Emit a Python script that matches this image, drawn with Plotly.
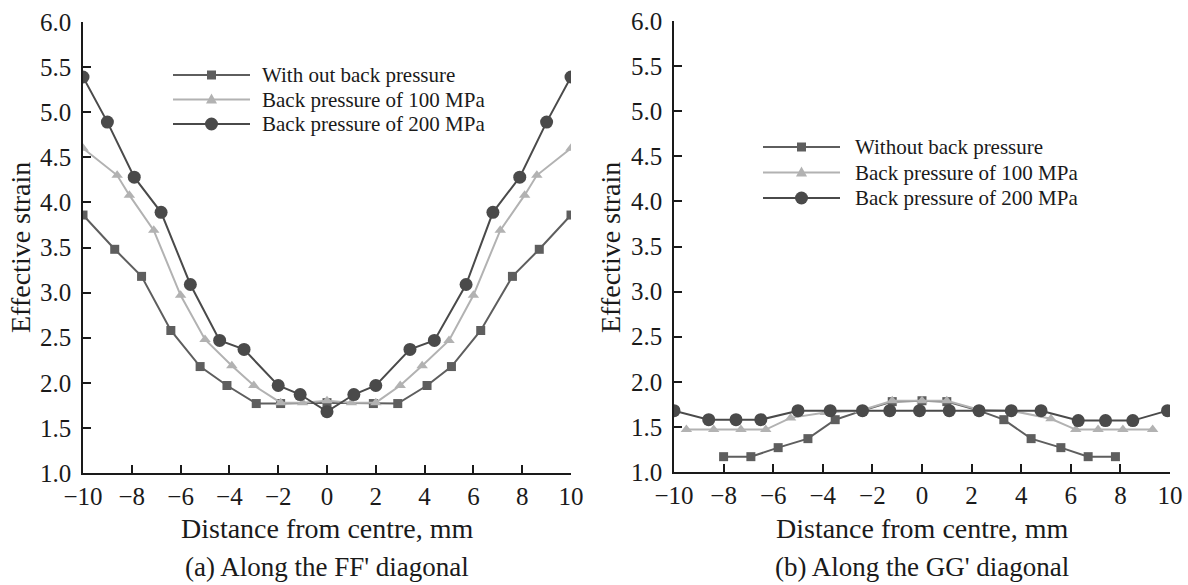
import plotly.graph_objects as go

# ── Data: (a) along FF' diagonal ─────────────────────────────────────────────
ff_sq_x = [-10, -8.7, -7.6, -6.4, -5.2, -4.1, -2.9, -1.9, 0, 1.9, 2.9, 4.1, 5.1, 6.3, 7.6, 8.7, 10]
ff_sq_y = [3.86, 3.48, 3.18, 2.58, 2.18, 1.97, 1.77, 1.77, 1.78, 1.77, 1.77, 1.97, 2.18, 2.58, 3.18, 3.48, 3.86]

ff_tri_x = [-10, -8.6, -8.1, -7.1, -6.0, -5.0, -3.9, -3.0, -1.9, -1.0, 0, 1.0, 2.0, 3.0, 3.9, 5.0, 6.0, 7.1, 8.1, 8.6, 10]
ff_tri_y = [4.60, 4.30, 4.08, 3.69, 2.97, 2.48, 2.19, 1.97, 1.78, 1.78, 1.80, 1.78, 1.78, 1.97, 2.19, 2.47, 2.97, 3.69, 4.08, 4.30, 4.60]

ff_cir_x = [-10, -9.0, -7.9, -6.8, -5.6, -4.4, -3.4, -2.0, -1.1, 0, 1.1, 2.0, 3.4, 4.4, 5.7, 6.8, 7.9, 9.0, 10]
ff_cir_y = [5.39, 4.89, 4.28, 3.89, 3.09, 2.47, 2.37, 1.97, 1.87, 1.68, 1.87, 1.97, 2.37, 2.47, 3.09, 3.89, 4.28, 4.89, 5.39]

# ── Data: (b) along GG' diagonal ─────────────────────────────────────────────
gg_sq_x = [-8.0, -6.9, -5.8, -4.6, -3.5, -2.4, -1.2, 0, 1.0, 2.3, 3.3, 4.4, 5.6, 6.7, 7.8]
gg_sq_y = [1.17, 1.17, 1.27, 1.37, 1.58, 1.68, 1.78, 1.79, 1.78, 1.68, 1.58, 1.37, 1.27, 1.17, 1.17]

gg_tri_x = [-9.5, -8.4, -7.3, -6.3, -5.3, -3.9, -2.5, -1.2, 0, 1.0, 2.3, 3.6, 5.2, 6.2, 7.1, 8.1, 9.3]
gg_tri_y = [1.47, 1.47, 1.47, 1.47, 1.60, 1.66, 1.68, 1.79, 1.79, 1.79, 1.69, 1.68, 1.59, 1.47, 1.47, 1.47, 1.47]

gg_cir_x = [-10, -8.6, -7.5, -6.5, -5.0, -3.7, -2.4, -1.3, -0.1, 1.1, 2.3, 3.6, 4.8, 6.3, 7.4, 8.5, 9.9]
gg_cir_y = [1.68, 1.58, 1.58, 1.58, 1.68, 1.68, 1.68, 1.68, 1.68, 1.68, 1.68, 1.68, 1.68, 1.57, 1.57, 1.57, 1.68]

names_a = ["With out back pressure", "Back pressure of 100 MPa", "Back pressure of 200 MPa"]
names_b = ["Without back pressure", "Back pressure of 100 MPa", "Back pressure of 200 MPa"]

y_ticks = [1.0, 1.5, 2.0, 2.5, 3.0, 3.5, 4.0, 4.5, 5.0, 5.5, 6.0]
x_ticks = [-10, -8, -6, -4, -2, 0, 2, 4, 6, 8, 10]

# ── Style ────────────────────────────────────────────────────────────────────
W, H = 1188, 585
FONT = "Liberation Serif, Times New Roman, serif"
INK = "#1a1a1a"
SQ_C = "#5e5e5e"
TRI_C = "#b2b2b2"
CIR_C = "#4a4a4a"

STYLES = [
    dict(color=SQ_C, symbol="square", size=9),
    dict(color=TRI_C, symbol="triangle-up", size=10),
    dict(color=CIR_C, symbol="circle", size=13),
]

def px(x):
    return x / W

def py(y):
    return 1 - y / H

fig = go.Figure()

panels = [
    ("x", "y", names_a, [(ff_sq_x, ff_sq_y), (ff_tri_x, ff_tri_y), (ff_cir_x, ff_cir_y)]),
    ("x2", "y2", names_b, [(gg_sq_x, gg_sq_y), (gg_tri_x, gg_tri_y), (gg_cir_x, gg_cir_y)]),
]
for xa, ya, names, series in panels:
    for (xs, ys), name, st in zip(series, names, STYLES):
        fig.add_trace(go.Scatter(
            x=xs, y=ys, name=name, mode="lines+markers",
            xaxis=xa, yaxis=ya, showlegend=False,
            line=dict(color=st["color"], width=2),
            marker=dict(color=st["color"], symbol=st["symbol"], size=st["size"], line=dict(width=0)),
        ))

axis_common = dict(
    showline=True, linecolor=INK, linewidth=1.5,
    ticks="inside", ticklen=8, tickwidth=1.5, tickcolor=INK,
    showgrid=False, zeroline=False, automargin=False,
    tickfont=dict(family=FONT, size=25, color=INK),
)

fig.update_layout(
    width=W, height=H, autosize=False,
    paper_bgcolor="white", plot_bgcolor="white",
    margin=dict(l=0, r=0, t=0, b=0),
    font=dict(family=FONT, color=INK),
    showlegend=False,
    xaxis=dict(**axis_common, domain=[px(83), px(571)], range=[-10, 10], tickvals=x_ticks, anchor="y"),
    yaxis=dict(**axis_common, domain=[py(473), py(22)], range=[1, 6], tickvals=y_ticks,
               tickformat=".1f", anchor="x", ticklabelstandoff=5),
    xaxis2=dict(**axis_common, domain=[px(674), px(1170)], range=[-10, 10], tickvals=x_ticks, anchor="y2"),
    yaxis2=dict(**axis_common, domain=[py(472), py(21)], range=[1, 6], tickvals=y_ticks,
                tickformat=".1f", anchor="x2", ticklabelstandoff=5),
)

# axis titles and panel captions
for cx, ycx in [(327, 20), (922, 610)]:
    fig.add_annotation(text="Distance from centre, mm", xref="paper", yref="paper",
                       x=px(cx), y=py(528), xanchor="center", yanchor="middle",
                       showarrow=False, font=dict(family=FONT, size=28, color=INK))
    fig.add_annotation(text="Effective strain", xref="paper", yref="paper", textangle=-90,
                       x=px(ycx), y=py(248), xanchor="center", yanchor="middle",
                       showarrow=False, font=dict(family=FONT, size=28, color=INK))
fig.add_annotation(text="(a) Along the FF' diagonal", xref="paper", yref="paper",
                   x=px(327), y=py(567), xanchor="center", yanchor="middle",
                   showarrow=False, font=dict(family=FONT, size=27, color=INK))
fig.add_annotation(text="(b) Along the GG' diagonal", xref="paper", yref="paper",
                   x=px(922), y=py(567), xanchor="center", yanchor="middle",
                   showarrow=False, font=dict(family=FONT, size=27, color=INK))

# legends drawn by hand: long sample line with the marker in its middle
legends = [
    (173, 250, 260, [75, 99.5, 124], names_a),
    (763, 840, 853, [147, 172.5, 198], names_b),
]
for x0, x1, tx, rows, names in legends:
    xm = (x0 + x1) / 2
    for yy, name, st in zip(rows, names, STYLES):
        c = st["color"]
        fig.add_shape(type="line", xref="paper", yref="paper",
                      x0=px(x0), x1=px(x1), y0=py(yy), y1=py(yy), line=dict(color=c, width=2))
        if st["symbol"] == "square":
            h = 4.5
            fig.add_shape(type="rect", xref="paper", yref="paper",
                          x0=px(xm - h), x1=px(xm + h), y0=py(yy + h), y1=py(yy - h),
                          fillcolor=c, line=dict(width=0))
        elif st["symbol"] == "circle":
            r = 6.5
            fig.add_shape(type="circle", xref="paper", yref="paper",
                          x0=px(xm - r), x1=px(xm + r), y0=py(yy + r), y1=py(yy - r),
                          fillcolor=c, line=dict(width=0))
        else:
            fig.add_shape(type="path", xref="paper", yref="paper",
                          path=f"M {px(xm - 5.5)} {py(yy + 4)} L {px(xm + 5.5)} {py(yy + 4)} L {px(xm)} {py(yy - 6)} Z",
                          fillcolor=c, line=dict(width=0))
        fig.add_annotation(text=name, xref="paper", yref="paper",
                           x=px(tx), y=py(yy), xanchor="left", yanchor="middle",
                           showarrow=False, font=dict(family=FONT, size=21, color=INK))

# the page's default body margin would shift the figure by 8 px
fig.write_html("out.html",
               config={"displayModeBar": False},
               post_script="document.body.style.margin='0';document.body.style.overflow='hidden';")
